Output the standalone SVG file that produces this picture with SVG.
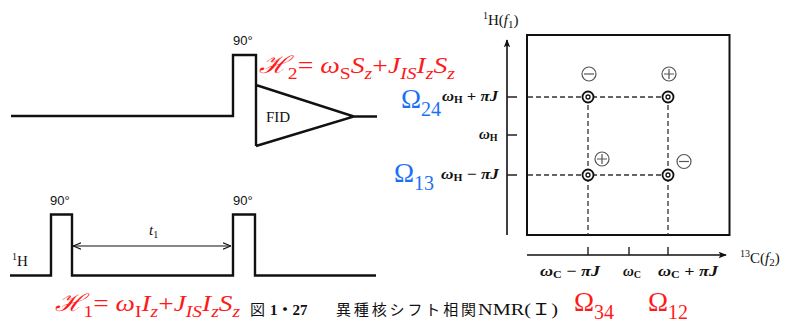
<svg xmlns="http://www.w3.org/2000/svg" width="795" height="323" viewBox="0 0 795 323">
<style>
.seq{fill:none;stroke:#111;stroke-width:2.4;stroke-linejoin:miter}
.ax{fill:none;stroke:#111;stroke-width:1.6}
.box{fill:none;stroke:#111;stroke-width:2}
.dash{fill:none;stroke:#333;stroke-width:1.3;stroke-dasharray:5 3}
.tick{fill:none;stroke:#222;stroke-width:1.4}
.lbl{font-family:"Liberation Serif","DejaVu Serif",serif;fill:#111}
.sans{font-family:"Liberation Sans",Arial,sans-serif;fill:#111}
.red{font-family:"Liberation Serif","DejaVu Serif",serif;fill:#ff1a1a}
.blue{font-family:"Liberation Serif","DejaVu Serif",serif;fill:#1a70f5}
.it{font-style:italic}
.sign{fill:none;stroke:#555;stroke-width:1.2}
.pk{fill:none;stroke:#111}
.cap{font-family:"Liberation Serif","Noto Sans CJK JP",serif;fill:#111}
</style>
<defs>
<marker id="oa" viewBox="0 0 10 10" refX="10" refY="5" markerWidth="8" markerHeight="8" orient="auto-start-reverse" markerUnits="userSpaceOnUse">
<path d="M0,1 L10,5 L0,9" fill="none" stroke="#111" stroke-width="1.4"/>
</marker>
<marker id="fa" viewBox="0 0 10 10" refX="9" refY="5" markerWidth="10" markerHeight="8" orient="auto" markerUnits="userSpaceOnUse">
<path d="M0,1 L10,5 L0,9 L2,5 Z" fill="#111"/>
</marker>
</defs>

<!-- Pulse sequence top (13C) -->
<g id="seq-top">
<path class="seq" d="M11,116 L233,116 L233,55 L256,55 L256,146 M256,85 L354,116.5 L256,146 M354,116.5 L377,116.5"/>
<text class="sans" x="233" y="45" font-size="13">90°</text>
<text class="lbl" x="266" y="122" font-size="15">FID</text>
</g>

<!-- Pulse sequence bottom (1H) -->
<g id="seq-bottom">
<path class="seq" d="M10,275.5 L51,275.5 L51,214.5 L72,214.5 L72,275.5 L233,275.5 L233,214.5 L255,214.5 L255,275.5 L376,275.5"/>
<text class="sans" x="50" y="205" font-size="13">90°</text>
<text class="sans" x="233" y="205" font-size="13">90°</text>
<text class="lbl" x="12" y="266" font-size="15"><tspan font-size="10" dy="-6">1</tspan><tspan dy="6">H</tspan></text>
</g>

<g id="connectors">
<line x1="73" y1="246" x2="231" y2="246" stroke="#111" stroke-width="1.2" marker-start="url(#oa)" marker-end="url(#oa)"/>
</g>
<g id="t1-label">
<text class="lbl" x="149" y="235" font-size="15"><tspan class="it">t</tspan><tspan font-size="10" dy="3">1</tspan></text>
</g>

<!-- Hamiltonians -->
<g id="H2">
<text class="red" x="259" y="73" font-size="24" textLength="196" lengthAdjust="spacingAndGlyphs"><tspan class="it">ℋ</tspan><tspan font-size="17" dy="6">2</tspan><tspan dy="-6">= </tspan><tspan class="it">ω</tspan><tspan font-size="17" dy="6">S</tspan><tspan class="it" dy="-6">S</tspan><tspan class="it" font-size="17" dy="6">z</tspan><tspan dy="-6">+</tspan><tspan class="it">J</tspan><tspan class="it" font-size="17" dy="6">IS</tspan><tspan class="it" dy="-6">I</tspan><tspan class="it" font-size="17" dy="6">z</tspan><tspan class="it" dy="-6">S</tspan><tspan class="it" font-size="17" dy="6">z</tspan></text>
</g>
<g id="H1">
<text class="red" x="55" y="311" font-size="24" textLength="185" lengthAdjust="spacingAndGlyphs"><tspan class="it">ℋ</tspan><tspan font-size="17" dy="6">1</tspan><tspan dy="-6">= </tspan><tspan class="it">ω</tspan><tspan font-size="17" dy="6">I</tspan><tspan class="it" dy="-6">I</tspan><tspan class="it" font-size="17" dy="6">z</tspan><tspan dy="-6">+</tspan><tspan class="it">J</tspan><tspan class="it" font-size="17" dy="6">IS</tspan><tspan class="it" dy="-6">I</tspan><tspan class="it" font-size="17" dy="6">z</tspan><tspan class="it" dy="-6">S</tspan><tspan class="it" font-size="17" dy="6">z</tspan></text>
</g>

<!-- Caption -->
<g id="caption">
<text class="cap" x="250" y="315" font-size="15">図</text>
<text class="cap" x="270" y="315" font-size="15" font-weight="bold">1・27</text>
<text class="cap" x="336" y="315" font-size="15" textLength="140" lengthAdjust="spacing">異種核シフト相関</text>
<text class="cap" x="478" y="315" font-size="16" textLength="80" lengthAdjust="spacingAndGlyphs">NMR(Ｉ)</text>
</g>

<!-- 2D spectrum -->
<g id="spectrum">
<line class="ax" x1="507" y1="235" x2="507" y2="40" marker-end="url(#fa)"/>
<line class="ax" x1="527" y1="255" x2="726" y2="255" marker-end="url(#fa)"/>
<rect class="box" x="527" y="35" width="202.5" height="200"/>
<path class="tick" d="M507,97 H517 M507,135 H517 M507,175 H517 M588,247 V255 M629,247 V255 M668,247 V255"/>
<path class="dash" d="M528,97 H668 M528,175 H668 M588,97 V235 M668,97 V235"/>
</g>

<g id="peaks">
<g class="pk">
<circle cx="588" cy="97" r="5.5" stroke-width="1.8" fill="#fff"/><circle cx="588" cy="97" r="2" stroke-width="1.3"/>
<circle cx="668" cy="97" r="5.5" stroke-width="1.8" fill="#fff"/><circle cx="668" cy="97" r="2" stroke-width="1.3"/>
<circle cx="588" cy="175" r="5.5" stroke-width="1.8" fill="#fff"/><circle cx="588" cy="175" r="2" stroke-width="1.3"/>
<circle cx="668" cy="175" r="5.5" stroke-width="1.8" fill="#fff"/><circle cx="668" cy="175" r="2" stroke-width="1.3"/>
</g>
</g>

<g id="signs">
<g class="sign">
<circle cx="589" cy="74" r="7"/><path d="M584,74 H594"/>
<circle cx="669" cy="74" r="7"/><path d="M664,74 H674 M669,69 V79"/>
<circle cx="602" cy="159" r="7"/><path d="M597,159 H607 M602,154 V164"/>
<circle cx="684" cy="161.5" r="7"/><path d="M679,161.5 H689"/>
</g>
</g>

<g id="axis-labels">
<text class="lbl" x="483" y="25" font-size="15"><tspan font-size="10" dy="-6">1</tspan><tspan dy="6">H(</tspan><tspan class="it">f</tspan><tspan font-size="11" dy="3">1</tspan><tspan dy="-3">)</tspan></text>
<text class="lbl" x="740" y="263" font-size="15"><tspan font-size="10" dy="-6">13</tspan><tspan dy="6">C(</tspan><tspan class="it">f</tspan><tspan font-size="11" dy="3">2</tspan><tspan dy="-3">)</tspan></text>
<text class="lbl" x="442" y="101" font-size="15" font-weight="bold" textLength="56" lengthAdjust="spacingAndGlyphs"><tspan class="it">ω</tspan><tspan font-size="10" dy="2">H</tspan><tspan dy="-2"> + </tspan><tspan class="it">πJ</tspan></text>
<text class="lbl" x="479" y="139" font-size="15" font-weight="bold"><tspan class="it">ω</tspan><tspan font-size="10" dy="2">H</tspan></text>
<text class="lbl" x="441" y="179" font-size="15" font-weight="bold" textLength="58" lengthAdjust="spacingAndGlyphs"><tspan class="it">ω</tspan><tspan font-size="10" dy="2">H</tspan><tspan dy="-2"> − </tspan><tspan class="it">πJ</tspan></text>
<text class="lbl" x="540" y="276" font-size="15" font-weight="bold" textLength="60" lengthAdjust="spacingAndGlyphs"><tspan class="it">ω</tspan><tspan font-size="10" dy="2">C</tspan><tspan dy="-2"> − </tspan><tspan class="it">πJ</tspan></text>
<text class="lbl" x="623" y="276" font-size="15" font-weight="bold"><tspan class="it">ω</tspan><tspan font-size="10" dy="2">C</tspan></text>
<text class="lbl" x="658" y="276" font-size="15" font-weight="bold" textLength="60" lengthAdjust="spacingAndGlyphs"><tspan class="it">ω</tspan><tspan font-size="10" dy="2">C</tspan><tspan dy="-2"> + </tspan><tspan class="it">πJ</tspan></text>
</g>

<g id="omega-labels">
<text class="blue" x="401" y="108" font-size="27">Ω<tspan font-size="20" dy="8">24</tspan></text>
<text class="blue" x="394" y="182" font-size="27">Ω<tspan font-size="20" dy="8">13</tspan></text>
<text class="red" x="574" y="311" font-size="27">Ω<tspan font-size="20" dy="8">34</tspan></text>
<text class="red" x="648" y="311" font-size="27">Ω<tspan font-size="20" dy="8">12</tspan></text>
</g>
</svg>
